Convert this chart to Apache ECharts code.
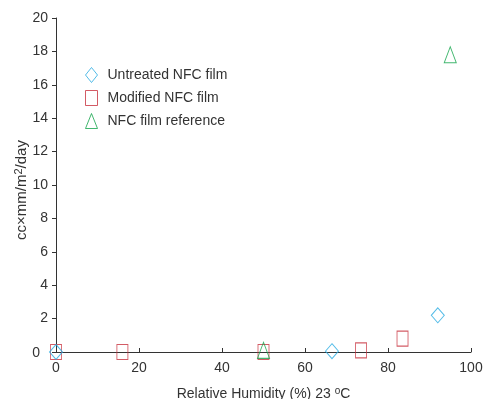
<!DOCTYPE html>
<html>
<head>
<meta charset="utf-8">
<script src="https://cdn.jsdelivr.net/npm/echarts@6/dist/echarts.min.js"></script>
<style>
  html, body { margin: 0; padding: 0; background: #fff; }
  #chart { width: 483px; height: 399px; }
</style>
</head>
<body>
<div id="chart"></div>
<script>
// Water vapour transmission vs relative humidity at 23 °C
const untreatedRH   = [0, 66.5, 92];
const untreatedWVTR = [0, 0.05, 2.2];

const modifiedRH   = [0, 16, 50, 73.5, 83.5];
const modifiedWVTR = [0, 0, 0, 0.1, 0.8];

const referenceRH   = [50, 95];
const referenceWVTR = [0.1, 17.8];

const xTicks = [0, 20, 40, 60, 80, 100];
const yTicks = [0, 2, 4, 6, 8, 10, 12, 14, 16, 18, 20];

const pairs = (xs, ys) => xs.map((x, i) => [x, ys[i]]);

const font = 'Liberation Sans, Arial, sans-serif';
const ink = '#333';
const supStyle = { fontSize: 10, verticalAlign: 'top', padding: [0, 0, 7, 0], fontFamily: font, color: ink };
const chart = echarts.init(document.getElementById('chart'));

chart.setOption({
  animation: false,
  grid: { left: 56, right: 12, top: 18, bottom: 47, containLabel: false, outerBoundsMode: 'none' },
  legend: {
    orient: 'vertical',
    left: 80,
    top: 62,
    itemWidth: 12,
    itemHeight: 15,
    itemGap: 7,
    itemStyle: { borderWidth: 1 },
    textStyle: { fontFamily: font, fontSize: 14, color: ink, padding: [0, 0, 0, 5] },
    data: ['Untreated NFC film', 'Modified NFC film', 'NFC film reference']
  },
  xAxis: {
    type: 'value',
    min: xTicks[0],
    max: xTicks[xTicks.length - 1],
    interval: 20,
    name: 'Relative Humidity (%) 23 {sup|o}C',
    nameLocation: 'middle',
    nameGap: 34,
    nameMoveOverlap: false,
    nameTextStyle: { fontFamily: font, fontSize: 14, color: ink, rich: { sup: supStyle } },
    axisLine: { lineStyle: { color: ink, width: 1 } },
    axisTick: { inside: true, length: 4, lineStyle: { color: ink } },
    axisLabel: { fontFamily: font, fontSize: 14, color: ink, margin: 9 },
    splitLine: { show: false }
  },
  yAxis: {
    type: 'value',
    min: yTicks[0],
    max: yTicks[yTicks.length - 1],
    interval: 2,
    name: 'cc×mm/m{sup|2}/day',
    nameLocation: 'middle',
    nameGap: 25,
    nameMoveOverlap: false,
    nameTextStyle: {
      fontFamily: font, fontSize: 15, color: ink, padding: [0, 10, 0, 0],
      rich: { sup: { fontSize: 11, verticalAlign: 'top', padding: [0, 0, 7, 0], fontFamily: font, color: ink } }
    },
    axisLine: { lineStyle: { color: ink, width: 1 } },
    axisTick: { length: 4, lineStyle: { color: ink } },
    axisLabel: {
      fontFamily: font, fontSize: 14, color: ink, margin: 8,
      formatter: v => (v === 0 ? '{z|0}' : String(v)),
      rich: { z: { fontFamily: font, fontSize: 14, color: ink, padding: [2, 8, 0, 0] } }
    },
    splitLine: { show: false }
  },
  series: [
    {
      name: 'Untreated NFC film',
      type: 'scatter',
      symbol: 'diamond',
      symbolSize: [13, 15],
      itemStyle: { color: 'rgba(0,0,0,0)', borderColor: '#29abe2', borderWidth: 1 },
      data: pairs(untreatedRH, untreatedWVTR),
      z: 3
    },
    {
      name: 'Modified NFC film',
      type: 'scatter',
      symbol: 'rect',
      symbolSize: [11, 15],
      itemStyle: { color: 'rgba(0,0,0,0)', borderColor: '#c8323f', borderWidth: 1 },
      data: pairs(modifiedRH, modifiedWVTR),
      z: 2
    },
    {
      name: 'NFC film reference',
      type: 'scatter',
      symbol: 'triangle',
      symbolSize: [12, 16],
      itemStyle: { color: 'rgba(0,0,0,0)', borderColor: '#13a54b', borderWidth: 1 },
      data: pairs(referenceRH, referenceWVTR),
      z: 4
    }
  ]
});
</script>
</body>
</html>
